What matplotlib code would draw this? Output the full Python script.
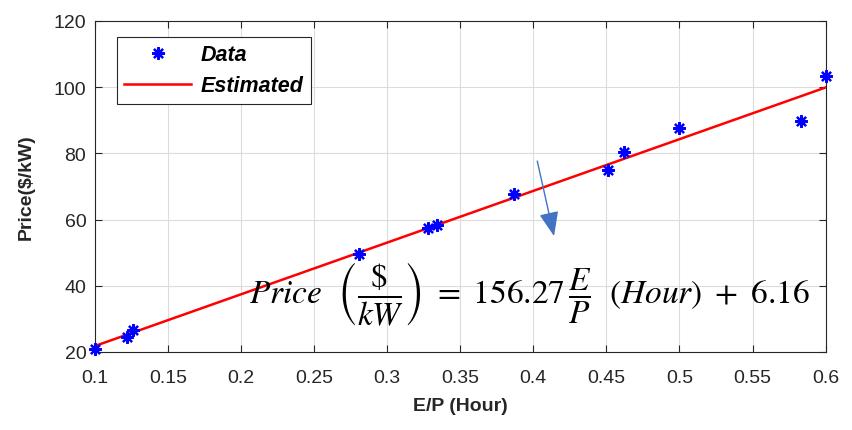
import numpy as np
import matplotlib.pyplot as plt

plt.rcParams['font.family'] = ['Liberation Sans Narrow', 'Liberation Sans', 'DejaVu Sans']
plt.rcParams['mathtext.fontset'] = 'stix'

# data
ep_hours = [0.100, 0.122, 0.126, 0.281, 0.328, 0.334, 0.387, 0.451, 0.462, 0.500, 0.583, 0.600]
price_kw = [20.8, 24.6, 26.6, 49.5, 57.4, 58.3, 67.6, 75.0, 80.5, 87.6, 89.8, 103.3]

# fitted line
slope = 156.27
intercept = 6.16
fit_x = [0.1, 0.6]

x_ticks = [0.1, 0.15, 0.2, 0.25, 0.3, 0.35, 0.4, 0.45, 0.5, 0.55, 0.6]
x_tick_labels = ['0.1', '0.15', '0.2', '0.25', '0.3', '0.35', '0.4', '0.45', '0.5', '0.55', '0.6']
y_ticks = [20, 40, 60, 80, 100, 120]

fig = plt.figure(figsize=(8.53, 4.31), dpi=100)
ax = fig.add_axes([0.111, 0.181, 0.857, 0.768])

ax.plot(ep_hours, price_kw, linestyle='none', marker=(8, 2, 0), markersize=9,
        markeredgewidth=1.6, color='blue', label='Data', clip_on=False, zorder=4)
fit_y = [slope * v + intercept for v in fit_x]
ax.plot(fit_x, fit_y, color='red', linewidth=1.8, label='Estimated', zorder=3)

ax.set_xlim(0.1, 0.6)
ax.set_ylim(20, 120)
ax.set_xticks(x_ticks)
ax.set_xticklabels(x_tick_labels)
ax.set_yticks(y_ticks)
ax.grid(True, color='#dcdcdc', linewidth=0.8)
ax.set_axisbelow(True)
ax.tick_params(direction='in', top=True, right=True, labelsize=14,
               colors='#262626', length=5)
ax.tick_params(axis='x', pad=12)
ax.tick_params(axis='y', pad=6)
for s in ax.spines.values():
    s.set_color('#262626')

ax.set_xlabel('E/P (Hour)', fontsize=14, fontweight='bold', color='#262626', labelpad=8)
ax.set_ylabel('Price(\\$/kW)', fontsize=14, fontweight='bold', color='#262626', labelpad=14)

leg = ax.legend(loc='upper left', bbox_to_anchor=(0.03, 0.952), borderaxespad=0,
                fancybox=False, edgecolor='#262626', framealpha=1,
                handlelength=3.1, handletextpad=0.45,
                borderpad=0.35, labelspacing=0.45,
                prop={'size': 15.5, 'weight': 'bold', 'style': 'italic',
                      'family': ['Liberation Sans', 'DejaVu Sans']})
leg.get_frame().set_linewidth(0.8)

# arrow annotation
ax.annotate('', xy=(0.4146, 54.2), xytext=(0.4023, 78.5),
            arrowprops=dict(arrowstyle='-|>,head_length=1.5,head_width=0.6',
                            color='#4472C4', linewidth=1.0))

ax.text(0.3975, 37.6,
        r'$Price\ \ \left(\dfrac{\$}{kW}\right)\ =\ 156.27\,\dfrac{E}{P}\ \ (Hour)\ +\ 6.16$',
        fontsize=24, ha='center', va='center', color='black')

fig.savefig('out.png', dpi=100)
